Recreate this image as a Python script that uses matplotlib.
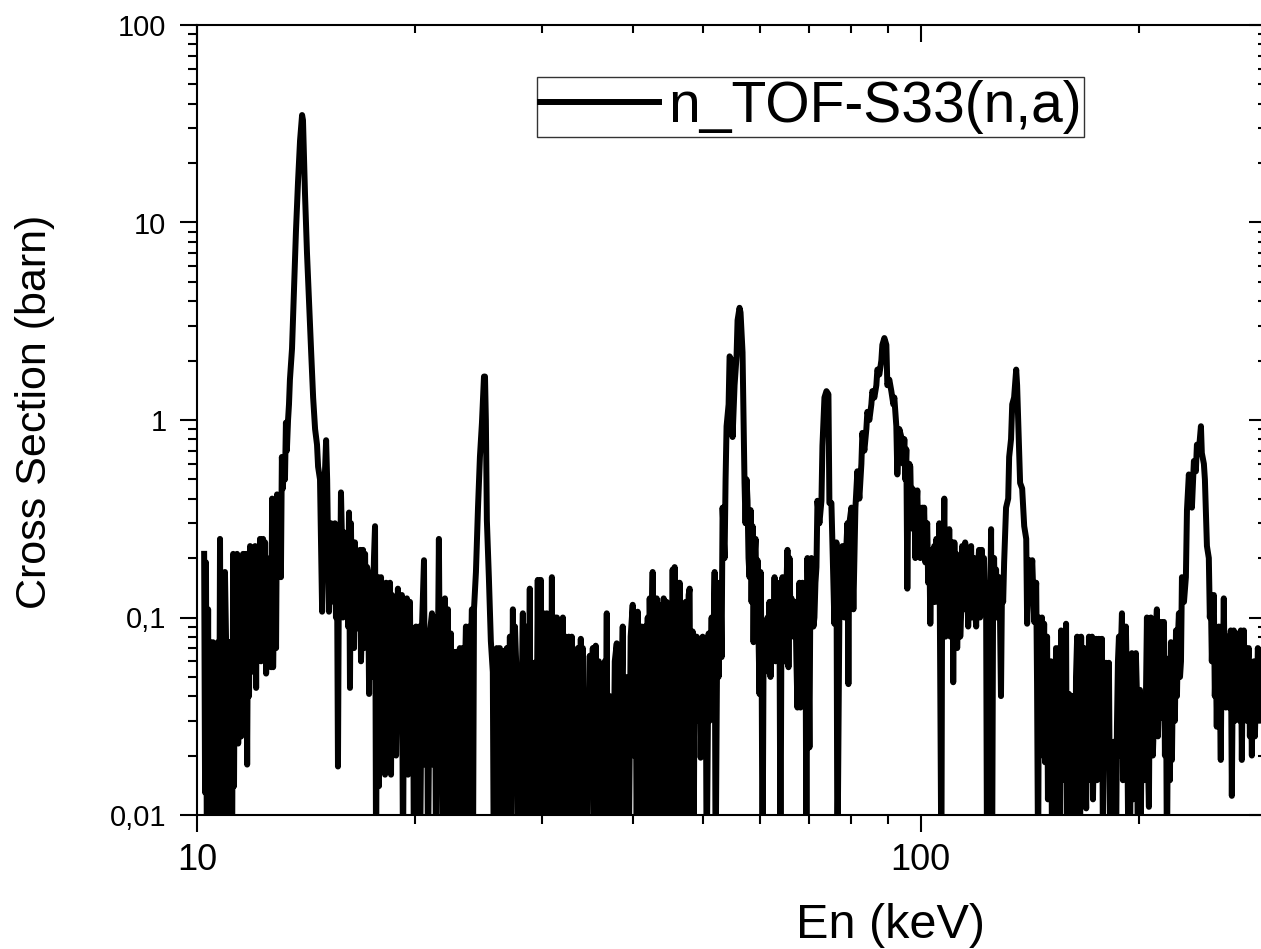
import numpy as np
import matplotlib
matplotlib.use("Agg")
import matplotlib.pyplot as plt
from matplotlib.ticker import FixedLocator, FixedFormatter, NullFormatter

plt.rcParams['font.family'] = ['Liberation Sans', 'DejaVu Sans']

# --- data (En in keV, cross section in barn) ---
# 10 - 13.5 keV
e_a = [10.23, 10.26, 10.29, 10.32, 10.36, 10.39, 10.42, 10.45, 10.49, 10.52, 10.55,
       10.59, 10.62, 10.66, 10.69, 10.72, 10.76, 10.79, 10.83, 10.86, 10.90, 10.93, 10.97, 11.00,
       11.04, 11.07, 11.11, 11.15, 11.18, 11.22, 11.25, 11.29, 11.32, 11.36, 11.40, 11.43, 11.47, 11.51,
       11.55, 11.58, 11.62, 11.66, 11.69, 11.73, 11.77, 11.80, 11.84, 11.88, 11.92, 11.95, 11.99, 12.03, 12.07,
       12.10, 12.14, 12.18, 12.22, 12.26, 12.30, 12.34, 12.38, 12.42, 12.46, 12.50, 12.54, 12.58, 12.62, 12.66,
       12.70, 12.74, 12.78, 12.82, 12.86, 12.90, 12.94, 12.98, 13.02, 13.06, 13.10, 13.14, 13.19, 13.23,
       13.27, 13.31, 13.36, 13.40, 13.44]
s_a = [0.21, 0.013, 0.19, 0.005, 0.11, 0.005, 0.075, 0.005, 0.06, 0.075, 0.005,
       0.06, 0.005, 0.05, 0.075, 0.005, 0.25, 0.012, 0.075, 0.005, 0.005, 0.17, 0.075, 0.005,
       0.06, 0.075, 0.012, 0.075, 0.005, 0.21, 0.014, 0.19, 0.03, 0.21, 0.023, 0.15, 0.2, 0.025,
       0.12, 0.21, 0.03, 0.16, 0.21, 0.018, 0.2, 0.04, 0.23, 0.053, 0.2, 0.22, 0.06, 0.23, 0.044,
       0.19, 0.22, 0.07, 0.25, 0.06, 0.2, 0.25, 0.07, 0.24, 0.052, 0.18, 0.11, 0.09, 0.2, 0.056,
       0.40, 0.056, 0.12, 0.3, 0.07, 0.42, 0.17, 0.2, 0.31, 0.16, 0.65, 0.45, 0.6, 0.5,
       0.97, 0.7, 1.0, 1.2, 1.6]

# 13.5 - 20.3 keV (big resonance at 14 keV)
e_b = [13.53, 13.62, 13.70, 13.79, 13.88, 13.97, 14.01, 14.06, 14.10, 14.19,
       14.28, 14.38, 14.47, 14.56, 14.65, 14.70, 14.79, 14.89, 14.98, 15.08,
       15.13, 15.22, 15.32, 15.37, 15.42, 15.46, 15.51, 15.56, 15.61, 15.66, 15.71, 15.76, 15.81, 15.86,
       15.91, 15.96, 16.01, 16.06, 16.11, 16.17, 16.22, 16.27, 16.32, 16.38, 16.43, 16.48, 16.53, 16.58, 16.64,
       16.69, 16.75, 16.80, 16.85, 16.91, 16.96, 17.01, 17.07, 17.12, 17.18, 17.23, 17.29, 17.34, 17.40, 17.45, 17.51,
       17.56, 17.62, 17.68, 17.73, 17.79, 17.84, 17.90, 17.96, 18.02, 18.07, 18.13, 18.19, 18.25, 18.31, 18.36,
       18.42, 18.48, 18.54, 18.60, 18.66, 18.72, 18.78, 18.84, 18.90, 18.95, 19.01, 19.07, 19.13, 19.19, 19.26,
       19.32, 19.38, 19.44, 19.50, 19.57, 19.63, 19.69, 19.75, 19.82, 19.88, 19.94, 20.01, 20.07, 20.14, 20.20, 20.27,
       20.33]
s_b = [2.3, 4.7, 9, 16, 26, 35, 33, 20, 14, 7,
       4, 2.2, 1.3, 0.9, 0.75, 0.58, 0.5, 0.107, 0.4, 0.79,
       0.5, 0.107, 0.3, 0.15, 0.28, 0.12, 0.3, 0.1, 0.2, 0.0176, 0.2, 0.12, 0.43, 0.25,
       0.1, 0.27, 0.11, 0.2, 0.26, 0.09, 0.34, 0.044, 0.3, 0.08, 0.24, 0.07, 0.24, 0.1, 0.2,
       0.088, 0.2, 0.22, 0.06, 0.1, 0.22, 0.07, 0.21, 0.088, 0.18, 0.17, 0.041, 0.15, 0.16, 0.05, 0.12,
       0.2, 0.29, 0.005, 0.12, 0.16, 0.014, 0.1, 0.16, 0.03, 0.12, 0.14, 0.016, 0.15, 0.03, 0.05,
       0.12, 0.15, 0.016, 0.13, 0.05, 0.028, 0.12, 0.02, 0.04, 0.14, 0.03, 0.06, 0.11, 0.13, 0.005,
       0.07, 0.09, 0.02, 0.125, 0.016, 0.09, 0.12, 0.03, 0.06, 0.088, 0.005, 0.07, 0.09, 0.02, 0.06, 0.09,
       0.005]

# 20.4 - 53 keV
e_c = [20.46, 20.59, 20.66, 20.79, 20.85, 20.98, 21.12, 21.19, 21.32, 21.39,
       21.59, 21.66, 21.80, 21.87, 22.01, 22.08, 22.22, 22.29, 22.43, 22.50,
       22.65, 22.72, 22.86, 22.94, 23.08, 23.16, 23.31, 23.38, 23.53, 23.61,
       23.76, 23.83, 23.98, 24.06, 24.14, 24.29, 24.45, 24.60, 24.76, 24.92,
       25.00, 25.07, 25.15, 25.31, 25.47, 25.63, 25.71, 25.79, 25.88, 25.96,
       26.04, 26.21, 26.29, 26.46, 26.55, 26.63, 26.72, 26.80, 26.97, 27.06,
       27.15, 27.32, 27.41, 27.50, 27.67, 27.76, 27.93, 28.02, 28.20, 28.29,
       28.47, 28.56, 28.70, 28.83, 28.92, 29.11, 29.20, 29.29, 29.39, 29.57, 29.67,
       29.86, 29.95, 30.15, 30.24, 30.44, 30.53, 30.73, 30.83, 30.93, 31.03,
       31.23, 31.33, 31.43, 31.53, 31.72, 31.82, 32.03, 32.13, 32.33, 32.43,
       32.64, 32.74, 32.95, 33.06, 33.27, 33.38, 33.59, 33.70, 33.91, 34.02,
       34.13, 34.24, 34.35, 34.56, 34.72, 34.89, 35.00, 35.23, 35.34, 35.56, 35.68,
       35.91, 36.02, 36.25, 36.37, 36.60, 36.72, 36.83, 36.95, 37.18, 37.42,
       37.54, 37.78, 38.02, 38.14, 38.38, 38.50, 38.75, 38.87, 39.12, 39.37,
       39.49, 39.74, 40.00, 40.13, 40.38, 40.51, 40.64, 40.90, 41.16, 41.30,
       41.56, 41.69, 41.96, 42.09, 42.22, 42.35, 42.62, 42.76, 43.03, 43.17,
       43.31, 43.44, 43.72, 43.86, 44.14, 44.28, 44.56, 44.71, 44.99, 45.13,
       45.42, 45.56, 45.71, 45.86, 46.15, 46.29, 46.44, 46.59, 46.89, 47.04,
       47.34, 47.49, 47.79, 47.94, 48.10, 48.40, 48.56, 48.71, 49.02, 49.18,
       49.49, 49.65, 49.97, 50.13, 50.45, 50.61, 50.93, 51.09, 51.42, 51.58,
       51.91, 52.07, 52.40, 52.56, 52.90, 53.07]
s_c = [0.09, 0.195, 0.018, 0.084, 0.005, 0.084, 0.105, 0.018, 0.1, 0.005,
       0.25, 0.04, 0.12, 0.005, 0.125, 0.03, 0.11, 0.005, 0.083, 0.02,
       0.067, 0.005, 0.067, 0.036, 0.07, 0.005, 0.07, 0.033, 0.09, 0.005,
       0.09, 0.033, 0.11, 0.005, 0.11, 0.17, 0.36, 0.65, 0.97, 1.66,
       1.66, 1.0, 0.31, 0.16, 0.076, 0.053, 0.005, 0.041, 0.005, 0.07,
       0.01, 0.07, 0.005, 0.06, 0.012, 0.068, 0.005, 0.07, 0.012, 0.08,
       0.005, 0.11, 0.02, 0.09, 0.046, 0.005, 0.047, 0.02, 0.105, 0.005,
       0.09, 0.03, 0.008, 0.14, 0.005, 0.059, 0.015, 0.059, 0.005, 0.155, 0.02,
       0.155, 0.005, 0.105, 0.02, 0.105, 0.005, 0.09, 0.02, 0.16, 0.005,
       0.1, 0.03, 0.1, 0.005, 0.028, 0.005, 0.1, 0.015, 0.08, 0.005,
       0.08, 0.03, 0.08, 0.005, 0.063, 0.017, 0.07, 0.005, 0.078, 0.02,
       0.07, 0.005, 0.037, 0.005, 0.03, 0.064, 0.015, 0.07, 0.005, 0.072, 0.005,
       0.06, 0.02, 0.058, 0.005, 0.06, 0.02, 0.105, 0.005, 0.04, 0.017,
       0.005, 0.06, 0.074, 0.005, 0.07, 0.02, 0.09, 0.005, 0.05, 0.027,
       0.005, 0.08, 0.116, 0.02, 0.1, 0.005, 0.107, 0.04, 0.09, 0.005,
       0.09, 0.025, 0.1, 0.005, 0.125, 0.04, 0.17, 0.005, 0.1, 0.125,
       0.033, 0.005, 0.115, 0.02, 0.125, 0.005, 0.12, 0.03, 0.062, 0.005,
       0.175, 0.03, 0.18, 0.005, 0.15, 0.04, 0.15, 0.005, 0.09, 0.02,
       0.12, 0.005, 0.13, 0.14, 0.01, 0.085, 0.005, 0.08, 0.08, 0.03,
       0.078, 0.0195, 0.08, 0.02, 0.078, 0.005, 0.083, 0.03, 0.1, 0.04,
       0.17, 0.005, 0.15, 0.05, 0.15, 0.063]

# 53 - 113 keV (resonances at 56, 74 and 89 keV)
e_d = [53.24, 53.58, 53.75, 53.92, 54.27, 54.44, 54.79, 54.96, 55.31, 55.66,
       55.84, 56.19, 56.37, 56.73,
       57.09, 57.27, 57.46, 57.64, 57.82, 58.01, 58.20, 58.38, 58.57, 58.75,
       58.94, 59.13, 59.32, 59.50, 59.69, 59.88, 60.07, 60.27, 60.46, 60.66,
       60.85, 61.04, 61.24, 61.43, 61.62, 61.81, 62.01, 62.21, 62.41, 62.61,
       62.81, 63.01, 63.21, 63.41, 63.61, 63.81, 64.01, 64.21, 64.42, 64.62,
       64.83, 65.04, 65.25, 65.45, 65.66, 65.87, 66.08, 66.29, 66.50, 66.71,
       66.92, 67.13, 67.34, 67.56, 67.77, 67.99, 68.21, 68.42, 68.64, 68.86,
       69.08, 69.30, 69.52, 69.74, 69.96, 70.19, 70.41, 70.63, 70.86, 71.08,
       71.31, 71.54, 71.77,
       72.00, 72.45, 72.92, 73.15, 73.62, 74.09, 74.56, 74.79, 75.27, 75.51,
       75.99, 76.48, 76.72, 77.21, 77.70, 77.95, 78.45, 78.94, 79.20, 79.45,
       79.70, 80.21, 80.72, 81.24, 81.75, 82.27, 82.80, 83.06, 83.59, 84.12,
       84.39, 84.93, 85.47, 85.74, 86.29, 86.84, 87.12, 87.67, 88.23, 88.51,
       89.08, 89.65, 89.93, 90.50, 91.08, 91.66, 91.95, 92.54, 92.83, 93.42,
       94.02, 94.62,
       94.92, 95.22, 95.53, 95.83, 96.14, 96.44, 96.75, 97.06, 97.37, 97.68,
       97.99, 98.30, 98.62, 98.93, 99.24, 99.55, 99.87, 100.2, 100.5, 100.8,
       101.1, 101.5, 101.8, 102.1, 102.4, 102.8, 103.1, 103.4, 103.8, 104.1,
       104.4, 104.8, 105.1, 105.4, 105.7, 106.1, 106.4, 106.8, 107.1, 107.4,
       107.8, 108.2, 108.5, 108.8, 109.2, 109.5, 109.9, 110.2, 110.6, 110.9,
       111.3, 111.6, 112.0, 112.3, 112.7, 113.0]
s_d = [0.36, 0.2, 0.5, 0.93, 1.2, 2.1, 2.0, 0.82, 1.5, 2.1,
       3.2, 3.7, 3.5, 2.2,
       0.48, 0.3, 0.5, 0.39, 0.2, 0.16, 0.35, 0.12, 0.29, 0.075,
       0.2, 0.25, 0.1, 0.195, 0.08, 0.041, 0.17, 0.069, 0.005, 0.07,
       0.083, 0.056, 0.09, 0.1, 0.053, 0.12, 0.05, 0.1, 0.12, 0.07,
       0.16, 0.06, 0.12, 0.15, 0.08, 0.093, 0.005, 0.1, 0.16, 0.07,
       0.06, 0.12, 0.15, 0.22, 0.056, 0.2, 0.1, 0.125, 0.09, 0.08,
       0.12, 0.12, 0.06, 0.035, 0.1, 0.15, 0.035, 0.1, 0.15, 0.07,
       0.1, 0.12, 0.005, 0.2, 0.08, 0.022, 0.15, 0.2, 0.18, 0.09,
       0.1, 0.15, 0.18,
       0.39, 0.3, 0.39, 0.74, 1.3, 1.4, 1.35, 0.38, 0.38, 0.24,
       0.093, 0.24, 0.005, 0.11, 0.11, 0.23, 0.1, 0.23, 0.3, 0.046,
       0.3, 0.36, 0.11, 0.36, 0.55, 0.4, 0.6, 0.86, 0.7, 0.9,
       1.1, 1.0, 1.2, 1.4, 1.3, 1.5, 1.8, 1.7, 2.0, 2.4,
       2.6, 2.4, 1.5, 1.6, 1.4, 1.2, 1.3, 0.93, 0.53, 0.9,
       0.82, 0.6,
       0.8, 0.5, 0.71, 0.14, 0.45, 0.6, 0.58, 0.3, 0.45, 0.28,
       0.44, 0.2, 0.35, 0.44, 0.25, 0.36, 0.2, 0.25, 0.36, 0.22,
       0.36, 0.19, 0.28, 0.3, 0.15, 0.22, 0.093, 0.18, 0.2, 0.12,
       0.23, 0.12, 0.25, 0.2, 0.13, 0.3, 0.047, 0.005, 0.25, 0.15,
       0.4, 0.08, 0.2, 0.25, 0.1, 0.28, 0.08, 0.2, 0.24, 0.047,
       0.24, 0.12, 0.21, 0.07, 0.15, 0.195]

# 113 - 300 keV (resonances at 136 and 244 keV)
e_e = [113.4, 113.8, 114.1, 114.5, 114.8, 115.2, 115.6, 115.9, 116.3, 116.7,
       117.0, 117.4, 117.7, 118.1, 118.5, 118.9, 119.3, 119.6, 120.0, 120.4,
       120.8, 121.2, 121.5, 121.9, 122.3, 122.7, 123.1, 123.5, 123.9, 124.3,
       124.7, 125.1, 125.5, 125.9, 126.3, 126.7, 127.1, 127.5, 127.9, 128.3,
       128.7, 129.1, 129.5, 130.0, 130.4,
       131.2, 132.1, 132.5, 133.3, 133.8, 134.6, 135.5, 135.9, 136.4, 137.2,
       138.1, 139.0, 139.9, 140.3, 141.2, 142.1, 142.6, 143.5, 144.4, 144.8,
       145.3,
       145.7, 146.2, 146.7, 147.1, 147.6, 148.1, 148.5, 149.0, 149.5, 149.9,
       150.4, 150.9, 151.4, 151.9, 152.3, 152.8, 153.3, 153.8, 154.3, 154.8,
       155.3, 155.8, 156.3, 156.8, 157.3, 157.8, 158.3, 158.8, 159.3, 159.8,
       160.3, 160.8, 161.3, 161.9, 162.4, 162.9, 163.4, 163.9, 164.5, 165.0,
       165.5, 166.0, 166.6, 167.1, 167.6, 168.2, 168.7, 169.3, 169.8, 170.3,
       170.8, 171.4, 171.9, 172.5, 173.0, 173.6, 174.1, 174.7, 175.2, 175.8,
       176.3, 176.9, 177.5, 178.0, 178.5, 179.1, 179.7, 180.3, 180.8, 181.4,
       182.0, 182.6, 183.2, 183.7, 184.3, 184.9, 185.5, 186.1, 186.7, 187.3,
       187.9, 188.5, 189.1, 189.7, 190.3, 190.9, 191.5, 192.1, 192.7, 193.4,
       194.0, 194.6, 195.2, 195.8, 196.4, 197.1, 197.7, 198.3, 198.9, 199.6,
       200.2, 200.9, 201.5, 202.1, 202.8, 203.4, 204.1, 204.7, 205.4, 206.0,
       206.7, 207.3, 208.0, 208.7, 209.3, 210.0, 210.7, 211.4, 212.0, 212.7,
       213.4, 214.0, 214.7, 215.4, 216.1, 216.8, 217.5, 218.2, 218.9, 219.6,
       220.3, 221.0, 221.7, 222.4, 223.1, 223.8, 224.5, 225.3, 226.0, 226.7,
       227.4, 228.2, 228.9, 229.6,
       231.1, 232.5, 233.3, 234.7, 235.5, 236.2, 237.0, 238.5, 240.0, 240.8,
       242.3, 243.9, 244.6, 246.2, 247.0, 248.6,
       250.1, 250.9, 251.7, 252.5, 253.3, 254.1, 254.9, 255.7, 256.5, 257.3,
       258.2, 259.0, 259.8, 260.7, 261.5, 262.3, 263.2, 264.0, 264.8, 265.7,
       266.5, 267.3, 268.2, 269.1, 269.9, 270.8, 271.7, 272.5, 273.4, 274.3,
       275.1, 276.0, 276.9, 277.8, 278.7, 279.6, 280.5, 281.4, 282.3, 283.1,
       284.0, 285.0, 285.9, 286.8, 287.7, 288.6, 289.6, 290.5, 291.4, 292.3,
       293.2, 294.2, 295.1, 296.0, 297.0, 297.9, 299.0, 300.5]
s_e = [0.08, 0.11, 0.23, 0.12, 0.11, 0.24, 0.2, 0.195, 0.09, 0.15,
       0.2, 0.23, 0.1, 0.15, 0.2, 0.11, 0.09, 0.15, 0.18, 0.22,
       0.1, 0.15, 0.22, 0.12, 0.2, 0.12, 0.15, 0.005, 0.1, 0.15,
       0.1, 0.28, 0.005, 0.12, 0.2, 0.1, 0.175, 0.1, 0.15, 0.16,
       0.1, 0.04, 0.137, 0.12, 0.19,
       0.36, 0.4, 0.65, 0.8, 1.2, 1.3, 1.8, 1.5, 0.97, 0.48,
       0.45, 0.29, 0.25, 0.093, 0.195, 0.16, 0.195, 0.095, 0.15, 0.046,
       0.005,
       0.1, 0.02, 0.04, 0.1, 0.03, 0.093, 0.0185, 0.06, 0.08, 0.012,
       0.037, 0.02, 0.06, 0.005, 0.04, 0.05, 0.008, 0.07, 0.02, 0.05,
       0.07, 0.01, 0.086, 0.015, 0.05, 0.08, 0.02, 0.093, 0.005, 0.03,
       0.041, 0.01, 0.03, 0.04, 0.008, 0.04, 0.005, 0.05, 0.08, 0.015,
       0.03, 0.006, 0.08, 0.012, 0.05, 0.07, 0.02, 0.0108, 0.06, 0.015,
       0.08, 0.02, 0.06, 0.08, 0.012, 0.03, 0.06, 0.078, 0.015, 0.037,
       0.078, 0.02, 0.03, 0.078, 0.008, 0.02, 0.05, 0.059, 0.018, 0.04,
       0.059, 0.01, 0.0235, 0.005, 0.02, 0.0235, 0.006, 0.005, 0.028, 0.06,
       0.08, 0.02, 0.07, 0.105, 0.015, 0.03, 0.07, 0.09, 0.045, 0.01,
       0.06, 0.005, 0.04, 0.066, 0.012, 0.03, 0.05, 0.066, 0.043, 0.005,
       0.03, 0.043, 0.01, 0.037, 0.02, 0.015, 0.03, 0.037, 0.1, 0.02,
       0.011, 0.06, 0.1, 0.086, 0.02, 0.03, 0.07, 0.086, 0.11, 0.025,
       0.04, 0.08, 0.095, 0.031, 0.06, 0.095, 0.02, 0.062, 0.005, 0.04,
       0.062, 0.015, 0.075, 0.019, 0.05, 0.07, 0.03, 0.086, 0.04, 0.08,
       0.105, 0.05, 0.06, 0.16,
       0.12, 0.16, 0.35, 0.53, 0.45, 0.52, 0.36, 0.62, 0.55, 0.75,
       0.7, 0.93, 0.68, 0.6, 0.5, 0.23,
       0.2, 0.1, 0.13, 0.06, 0.1, 0.13, 0.04, 0.066, 0.028, 0.07,
       0.09, 0.04, 0.019, 0.09, 0.05, 0.125, 0.04, 0.035, 0.07, 0.08,
       0.035, 0.06, 0.086, 0.0125, 0.05, 0.086, 0.03, 0.083, 0.035, 0.07,
       0.083, 0.03, 0.086, 0.019, 0.06, 0.086, 0.035, 0.07, 0.03, 0.06,
       0.07, 0.025, 0.047, 0.02, 0.05, 0.06, 0.025, 0.041, 0.03, 0.07,
       0.06, 0.03, 0.05, 0.065, 0.04, 0.07, 0.05, 0.06]

y_ticks = [0.01, 0.1, 1, 10, 100]
y_tick_labels = ["0,01", "0,1", "1", "10", "100"]
x_ticks = [10, 100]
x_tick_labels = ["10", "100"]

energy = np.array(e_a + e_b + e_c + e_d + e_e)
sigma = np.array(s_a + s_b + s_c + s_d + s_e)

W, H = 1261, 949
fig = plt.figure(figsize=(W / 100, H / 100), dpi=100)
rect = [197 / W, (H - 815) / H, (1266 - 197) / W, (815 - 25) / H]
ax = fig.add_axes(rect)

ax.plot(energy, sigma, color="black", lw=4.3, label="n_TOF-S33(n,a)")
ax.set_xscale("log")
ax.set_yscale("log")
ax.set_xlim(10, 300)
ax.set_ylim(0.01, 100)

for sp in ax.spines.values():
    sp.set_linewidth(1.5)
# the right border sits just outside the picture
ax.spines["right"].set_visible(False)

ax.xaxis.set_major_locator(FixedLocator(x_ticks))
ax.xaxis.set_major_formatter(FixedFormatter(x_tick_labels))
ax.xaxis.set_minor_formatter(NullFormatter())
ax.yaxis.set_major_locator(FixedLocator(y_ticks))
ax.yaxis.set_major_formatter(FixedFormatter(y_tick_labels))
ax.yaxis.set_minor_formatter(NullFormatter())

ax.tick_params(axis="both", which="major", direction="out", length=12, width=1.5)
ax.tick_params(axis="both", which="minor", direction="out", length=6.5, width=1.5)
ax.tick_params(axis="x", which="major", labelsize=26, pad=8)
ax.tick_params(axis="y", which="major", labelsize=21, pad=10)

# overlay axes for the top / right ticks, pointing inward, no labels
ax2 = fig.add_axes(rect, sharex=ax, sharey=ax, frameon=False)
ax2.tick_params(which="both", direction="in", width=1.5,
                bottom=False, left=False, top=True, right=True,
                labelbottom=False, labelleft=False, labeltop=False, labelright=False)
ax2.tick_params(which="major", length=12)
ax2.tick_params(which="minor", length=6)

fig.text(891 / W, 1 - 925 / H, "En (keV)", fontsize=35, ha="center", va="center")
fig.text(35 / W, 1 - 412 / H, "Cross Section (barn)", fontsize=31,
         ha="center", va="center", rotation=90)

leg = ax.legend(loc="upper left", bbox_to_anchor=(537 / W, 1 - 77 / H),
                bbox_transform=fig.transFigure, fontsize=41, frameon=True,
                fancybox=False, shadow=False, borderpad=0.05, borderaxespad=0,
                handlelength=2.1, handletextpad=0.15)
leg.get_frame().set_edgecolor("black")
leg.get_frame().set_linewidth(1.0)

fig.savefig("out.png", dpi=100)
